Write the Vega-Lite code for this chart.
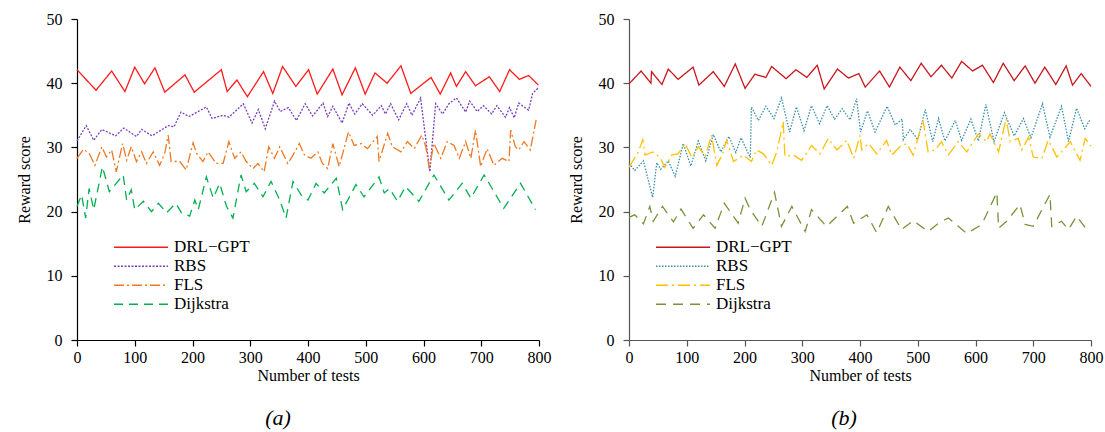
{
  "$schema": "https://vega.github.io/schema/vega-lite/v6.json",
  "background": "white",
  "padding": {"left": 16, "top": 11, "right": 5, "bottom": 2},
  "bounds": "flush",
  "spacing": 90,
  "config": {
    "font": "Liberation Serif, Times New Roman, serif",
    "view": {"stroke": null},
    "axis": {"domainColor": "black", "tickColor": "black", "labelColor": "black", "titleColor": "black", "labelFont": "Liberation Serif, Times New Roman, serif", "titleFont": "Liberation Serif, Times New Roman, serif", "labelFontSize": 16, "titleFontSize": 16, "titleFontWeight": "normal", "grid": false, "tickSize": 6, "domainWidth": 1.2, "tickWidth": 1.2, "labelFlush": false},
    "axisY": {"labelPadding": 9, "titlePadding": 14},
    "axisX": {"labelPadding": 3, "titlePadding": 2},
    "legend": {"labelFont": "Liberation Serif, Times New Roman, serif"},
    "title": {"font": "Liberation Serif, Times New Roman, serif", "fontSize": 22, "fontStyle": "italic", "fontWeight": "normal", "color": "black"}
  },
  "datasets": {
    "a": [
      {"test":0,"score":42.1,"method":"DRL−GPT"},{"test":33,"score":38.9,"method":"DRL−GPT"},{"test":60,"score":41.9,"method":"DRL−GPT"},{"test":83,"score":38.7,"method":"DRL−GPT"},{"test":100,"score":42.5,"method":"DRL−GPT"},{"test":117,"score":39.9,"method":"DRL−GPT"},{"test":135,"score":42.4,"method":"DRL−GPT"},{"test":152,"score":38.6,"method":"DRL−GPT"},{"test":187,"score":41.3,"method":"DRL−GPT"},{"test":203,"score":38.6,"method":"DRL−GPT"},{"test":250,"score":42.1,"method":"DRL−GPT"},{"test":260,"score":38.7,"method":"DRL−GPT"},{"test":277,"score":40.5,"method":"DRL−GPT"},{"test":295,"score":37.9,"method":"DRL−GPT"},{"test":323,"score":41.8,"method":"DRL−GPT"},{"test":339,"score":38.4,"method":"DRL−GPT"},{"test":356,"score":42.6,"method":"DRL−GPT"},{"test":379,"score":39.5,"method":"DRL−GPT"},{"test":401,"score":42.1,"method":"DRL−GPT"},{"test":416,"score":38.3,"method":"DRL−GPT"},{"test":443,"score":42.2,"method":"DRL−GPT"},{"test":459,"score":38.2,"method":"DRL−GPT"},{"test":482,"score":42.4,"method":"DRL−GPT"},{"test":499,"score":38.3,"method":"DRL−GPT"},{"test":516,"score":41.6,"method":"DRL−GPT"},{"test":537,"score":40.0,"method":"DRL−GPT"},{"test":561,"score":42.7,"method":"DRL−GPT"},{"test":578,"score":38.4,"method":"DRL−GPT"},{"test":613,"score":40.9,"method":"DRL−GPT"},{"test":629,"score":38.3,"method":"DRL−GPT"},{"test":647,"score":41.6,"method":"DRL−GPT"},{"test":657,"score":39.5,"method":"DRL−GPT"},{"test":673,"score":41.8,"method":"DRL−GPT"},{"test":690,"score":39.6,"method":"DRL−GPT"},{"test":714,"score":41.0,"method":"DRL−GPT"},{"test":732,"score":38.7,"method":"DRL−GPT"},{"test":749,"score":42.1,"method":"DRL−GPT"},{"test":766,"score":40.6,"method":"DRL−GPT"},{"test":782,"score":41.2,"method":"DRL−GPT"},{"test":799,"score":39.7,"method":"DRL−GPT"},
      {"test":0,"score":31.0,"method":"RBS"},{"test":16,"score":33.4,"method":"RBS"},{"test":29,"score":31.1,"method":"RBS"},{"test":43,"score":32.8,"method":"RBS"},{"test":67,"score":31.8,"method":"RBS"},{"test":81,"score":33.0,"method":"RBS"},{"test":103,"score":31.7,"method":"RBS"},{"test":112,"score":32.8,"method":"RBS"},{"test":130,"score":31.8,"method":"RBS"},{"test":158,"score":33.4,"method":"RBS"},{"test":168,"score":33.2,"method":"RBS"},{"test":180,"score":35.5,"method":"RBS"},{"test":194,"score":34.8,"method":"RBS"},{"test":224,"score":36.3,"method":"RBS"},{"test":234,"score":34.5,"method":"RBS"},{"test":253,"score":35.0,"method":"RBS"},{"test":263,"score":34.7,"method":"RBS"},{"test":288,"score":36.8,"method":"RBS"},{"test":303,"score":33.8,"method":"RBS"},{"test":314,"score":35.9,"method":"RBS"},{"test":326,"score":32.9,"method":"RBS"},{"test":342,"score":37.2,"method":"RBS"},{"test":352,"score":35.6,"method":"RBS"},{"test":366,"score":36.2,"method":"RBS"},{"test":380,"score":34.2,"method":"RBS"},{"test":395,"score":36.8,"method":"RBS"},{"test":408,"score":34.9,"method":"RBS"},{"test":426,"score":36.9,"method":"RBS"},{"test":434,"score":34.8,"method":"RBS"},{"test":443,"score":36.4,"method":"RBS"},{"test":459,"score":33.8,"method":"RBS"},{"test":471,"score":36.9,"method":"RBS"},{"test":481,"score":35.2,"method":"RBS"},{"test":494,"score":36.8,"method":"RBS"},{"test":512,"score":35.0,"method":"RBS"},{"test":527,"score":36.5,"method":"RBS"},{"test":534,"score":35.2,"method":"RBS"},{"test":543,"score":36.8,"method":"RBS"},{"test":557,"score":34.3,"method":"RBS"},{"test":571,"score":36.8,"method":"RBS"},{"test":580,"score":35.0,"method":"RBS"},{"test":595,"score":37.7,"method":"RBS"},{"test":611,"score":26.2,"method":"RBS"},{"test":621,"score":36.8,"method":"RBS"},{"test":633,"score":35.2,"method":"RBS"},{"test":644,"score":36.8,"method":"RBS"},{"test":657,"score":37.7,"method":"RBS"},{"test":673,"score":35.5,"method":"RBS"},{"test":680,"score":37.2,"method":"RBS"},{"test":693,"score":35.6,"method":"RBS"},{"test":704,"score":36.5,"method":"RBS"},{"test":718,"score":35.2,"method":"RBS"},{"test":727,"score":36.5,"method":"RBS"},{"test":742,"score":34.7,"method":"RBS"},{"test":749,"score":36.2,"method":"RBS"},{"test":757,"score":34.6,"method":"RBS"},{"test":765,"score":36.9,"method":"RBS"},{"test":782,"score":35.8,"method":"RBS"},{"test":789,"score":38.4,"method":"RBS"},{"test":799,"score":39.3,"method":"RBS"},
      {"test":0,"score":28.3,"method":"FLS"},{"test":11,"score":29.7,"method":"FLS"},{"test":21,"score":29.1,"method":"FLS"},{"test":31,"score":27.2,"method":"FLS"},{"test":43,"score":30.1,"method":"FLS"},{"test":51,"score":28.5,"method":"FLS"},{"test":60,"score":29.6,"method":"FLS"},{"test":68,"score":26.2,"method":"FLS"},{"test":79,"score":30.6,"method":"FLS"},{"test":86,"score":28.0,"method":"FLS"},{"test":94,"score":30.1,"method":"FLS"},{"test":103,"score":27.8,"method":"FLS"},{"test":112,"score":29.3,"method":"FLS"},{"test":120,"score":27.5,"method":"FLS"},{"test":132,"score":29.3,"method":"FLS"},{"test":143,"score":27.2,"method":"FLS"},{"test":152,"score":29.1,"method":"FLS"},{"test":158,"score":31.9,"method":"FLS"},{"test":163,"score":27.8,"method":"FLS"},{"test":178,"score":27.8,"method":"FLS"},{"test":189,"score":26.5,"method":"FLS"},{"test":201,"score":30.7,"method":"FLS"},{"test":207,"score":29.1,"method":"FLS"},{"test":218,"score":27.8,"method":"FLS"},{"test":227,"score":29.3,"method":"FLS"},{"test":241,"score":27.5,"method":"FLS"},{"test":253,"score":27.5,"method":"FLS"},{"test":263,"score":30.9,"method":"FLS"},{"test":273,"score":28.3,"method":"FLS"},{"test":284,"score":29.3,"method":"FLS"},{"test":293,"score":27.8,"method":"FLS"},{"test":305,"score":26.7,"method":"FLS"},{"test":313,"score":27.5,"method":"FLS"},{"test":324,"score":26.2,"method":"FLS"},{"test":332,"score":30.1,"method":"FLS"},{"test":342,"score":28.3,"method":"FLS"},{"test":351,"score":30.1,"method":"FLS"},{"test":365,"score":27.5,"method":"FLS"},{"test":374,"score":28.8,"method":"FLS"},{"test":385,"score":30.6,"method":"FLS"},{"test":394,"score":28.8,"method":"FLS"},{"test":405,"score":28.3,"method":"FLS"},{"test":417,"score":29.3,"method":"FLS"},{"test":425,"score":27.5,"method":"FLS"},{"test":434,"score":26.7,"method":"FLS"},{"test":443,"score":30.6,"method":"FLS"},{"test":454,"score":27.0,"method":"FLS"},{"test":470,"score":32.4,"method":"FLS"},{"test":480,"score":30.3,"method":"FLS"},{"test":492,"score":30.6,"method":"FLS"},{"test":503,"score":29.8,"method":"FLS"},{"test":520,"score":31.7,"method":"FLS"},{"test":523,"score":27.8,"method":"FLS"},{"test":538,"score":32.2,"method":"FLS"},{"test":546,"score":30.1,"method":"FLS"},{"test":561,"score":29.3,"method":"FLS"},{"test":572,"score":30.9,"method":"FLS"},{"test":584,"score":29.8,"method":"FLS"},{"test":597,"score":31.9,"method":"FLS"},{"test":604,"score":30.1,"method":"FLS"},{"test":610,"score":26.7,"method":"FLS"},{"test":618,"score":30.6,"method":"FLS"},{"test":630,"score":28.3,"method":"FLS"},{"test":641,"score":30.9,"method":"FLS"},{"test":653,"score":30.3,"method":"FLS"},{"test":662,"score":28.3,"method":"FLS"},{"test":673,"score":30.9,"method":"FLS"},{"test":682,"score":28.3,"method":"FLS"},{"test":690,"score":32.7,"method":"FLS"},{"test":699,"score":27.0,"method":"FLS"},{"test":710,"score":29.8,"method":"FLS"},{"test":722,"score":27.2,"method":"FLS"},{"test":736,"score":28.3,"method":"FLS"},{"test":748,"score":27.8,"method":"FLS"},{"test":751,"score":32.7,"method":"FLS"},{"test":759,"score":30.1,"method":"FLS"},{"test":765,"score":29.6,"method":"FLS"},{"test":774,"score":30.9,"method":"FLS"},{"test":785,"score":29.6,"method":"FLS"},{"test":795,"score":34.3,"method":"FLS"},
      {"test":0,"score":20.8,"method":"Dijkstra"},{"test":8,"score":22.6,"method":"Dijkstra"},{"test":15,"score":19.0,"method":"Dijkstra"},{"test":21,"score":23.6,"method":"Dijkstra"},{"test":29,"score":20.3,"method":"Dijkstra"},{"test":44,"score":27.0,"method":"Dijkstra"},{"test":56,"score":23.1,"method":"Dijkstra"},{"test":80,"score":25.7,"method":"Dijkstra"},{"test":86,"score":21.8,"method":"Dijkstra"},{"test":94,"score":23.4,"method":"Dijkstra"},{"test":100,"score":20.3,"method":"Dijkstra"},{"test":115,"score":21.6,"method":"Dijkstra"},{"test":129,"score":20.0,"method":"Dijkstra"},{"test":141,"score":21.3,"method":"Dijkstra"},{"test":155,"score":19.8,"method":"Dijkstra"},{"test":171,"score":21.3,"method":"Dijkstra"},{"test":181,"score":19.8,"method":"Dijkstra"},{"test":195,"score":19.3,"method":"Dijkstra"},{"test":204,"score":21.8,"method":"Dijkstra"},{"test":210,"score":20.3,"method":"Dijkstra"},{"test":224,"score":25.4,"method":"Dijkstra"},{"test":236,"score":22.1,"method":"Dijkstra"},{"test":247,"score":24.4,"method":"Dijkstra"},{"test":259,"score":20.8,"method":"Dijkstra"},{"test":270,"score":19.0,"method":"Dijkstra"},{"test":284,"score":25.7,"method":"Dijkstra"},{"test":293,"score":23.1,"method":"Dijkstra"},{"test":307,"score":24.4,"method":"Dijkstra"},{"test":322,"score":22.3,"method":"Dijkstra"},{"test":336,"score":24.7,"method":"Dijkstra"},{"test":351,"score":21.8,"method":"Dijkstra"},{"test":362,"score":19.0,"method":"Dijkstra"},{"test":374,"score":24.7,"method":"Dijkstra"},{"test":388,"score":22.6,"method":"Dijkstra"},{"test":400,"score":21.8,"method":"Dijkstra"},{"test":414,"score":24.4,"method":"Dijkstra"},{"test":428,"score":22.9,"method":"Dijkstra"},{"test":449,"score":25.2,"method":"Dijkstra"},{"test":460,"score":20.3,"method":"Dijkstra"},{"test":483,"score":24.2,"method":"Dijkstra"},{"test":497,"score":22.3,"method":"Dijkstra"},{"test":523,"score":25.4,"method":"Dijkstra"},{"test":532,"score":22.9,"method":"Dijkstra"},{"test":541,"score":23.6,"method":"Dijkstra"},{"test":555,"score":21.6,"method":"Dijkstra"},{"test":569,"score":23.9,"method":"Dijkstra"},{"test":592,"score":21.6,"method":"Dijkstra"},{"test":618,"score":25.7,"method":"Dijkstra"},{"test":644,"score":21.8,"method":"Dijkstra"},{"test":667,"score":24.4,"method":"Dijkstra"},{"test":682,"score":22.1,"method":"Dijkstra"},{"test":705,"score":25.7,"method":"Dijkstra"},{"test":739,"score":20.5,"method":"Dijkstra"},{"test":768,"score":24.4,"method":"Dijkstra"},{"test":794,"score":20.3,"method":"Dijkstra"}
    ],
    "b": [
      {"test":0,"score":39.9,"method":"DRL−GPT"},{"test":21,"score":41.9,"method":"DRL−GPT"},{"test":38,"score":40.0,"method":"DRL−GPT"},{"test":39,"score":41.8,"method":"DRL−GPT"},{"test":57,"score":39.8,"method":"DRL−GPT"},{"test":68,"score":42.2,"method":"DRL−GPT"},{"test":85,"score":40.6,"method":"DRL−GPT"},{"test":111,"score":42.5,"method":"DRL−GPT"},{"test":121,"score":39.7,"method":"DRL−GPT"},{"test":146,"score":41.8,"method":"DRL−GPT"},{"test":165,"score":39.5,"method":"DRL−GPT"},{"test":184,"score":43.0,"method":"DRL−GPT"},{"test":201,"score":39.2,"method":"DRL−GPT"},{"test":218,"score":41.4,"method":"DRL−GPT"},{"test":237,"score":40.9,"method":"DRL−GPT"},{"test":247,"score":42.6,"method":"DRL−GPT"},{"test":272,"score":40.7,"method":"DRL−GPT"},{"test":289,"score":42.1,"method":"DRL−GPT"},{"test":308,"score":40.9,"method":"DRL−GPT"},{"test":326,"score":42.8,"method":"DRL−GPT"},{"test":338,"score":39.1,"method":"DRL−GPT"},{"test":361,"score":42.2,"method":"DRL−GPT"},{"test":380,"score":40.8,"method":"DRL−GPT"},{"test":398,"score":41.5,"method":"DRL−GPT"},{"test":409,"score":39.4,"method":"DRL−GPT"},{"test":434,"score":41.9,"method":"DRL−GPT"},{"test":451,"score":39.4,"method":"DRL−GPT"},{"test":469,"score":42.5,"method":"DRL−GPT"},{"test":488,"score":40.4,"method":"DRL−GPT"},{"test":506,"score":43.1,"method":"DRL−GPT"},{"test":523,"score":41.0,"method":"DRL−GPT"},{"test":541,"score":42.8,"method":"DRL−GPT"},{"test":559,"score":40.8,"method":"DRL−GPT"},{"test":576,"score":43.4,"method":"DRL−GPT"},{"test":595,"score":41.9,"method":"DRL−GPT"},{"test":612,"score":42.8,"method":"DRL−GPT"},{"test":631,"score":40.1,"method":"DRL−GPT"},{"test":648,"score":43.1,"method":"DRL−GPT"},{"test":667,"score":40.4,"method":"DRL−GPT"},{"test":686,"score":42.7,"method":"DRL−GPT"},{"test":703,"score":40.0,"method":"DRL−GPT"},{"test":720,"score":42.5,"method":"DRL−GPT"},{"test":739,"score":39.8,"method":"DRL−GPT"},{"test":757,"score":42.7,"method":"DRL−GPT"},{"test":768,"score":39.7,"method":"DRL−GPT"},{"test":783,"score":41.5,"method":"DRL−GPT"},{"test":800,"score":39.5,"method":"DRL−GPT"},
      {"test":0,"score":27.5,"method":"RBS"},{"test":10,"score":26.4,"method":"RBS"},{"test":25,"score":27.9,"method":"RBS"},{"test":41,"score":22.2,"method":"RBS"},{"test":48,"score":27.6,"method":"RBS"},{"test":55,"score":26.6,"method":"RBS"},{"test":68,"score":27.9,"method":"RBS"},{"test":80,"score":25.5,"method":"RBS"},{"test":94,"score":30.6,"method":"RBS"},{"test":107,"score":27.1,"method":"RBS"},{"test":120,"score":31.0,"method":"RBS"},{"test":133,"score":27.9,"method":"RBS"},{"test":146,"score":32.0,"method":"RBS"},{"test":159,"score":29.3,"method":"RBS"},{"test":173,"score":31.7,"method":"RBS"},{"test":185,"score":29.2,"method":"RBS"},{"test":194,"score":31.5,"method":"RBS"},{"test":210,"score":28.4,"method":"RBS"},{"test":212,"score":36.3,"method":"RBS"},{"test":224,"score":34.2,"method":"RBS"},{"test":237,"score":36.4,"method":"RBS"},{"test":251,"score":34.5,"method":"RBS"},{"test":264,"score":37.7,"method":"RBS"},{"test":278,"score":32.4,"method":"RBS"},{"test":290,"score":36.3,"method":"RBS"},{"test":303,"score":32.6,"method":"RBS"},{"test":316,"score":36.5,"method":"RBS"},{"test":330,"score":33.7,"method":"RBS"},{"test":343,"score":36.5,"method":"RBS"},{"test":356,"score":34.4,"method":"RBS"},{"test":369,"score":36.0,"method":"RBS"},{"test":383,"score":34.3,"method":"RBS"},{"test":394,"score":37.6,"method":"RBS"},{"test":401,"score":32.4,"method":"RBS"},{"test":413,"score":35.7,"method":"RBS"},{"test":426,"score":32.4,"method":"RBS"},{"test":447,"score":36.4,"method":"RBS"},{"test":461,"score":33.5,"method":"RBS"},{"test":473,"score":34.4,"method":"RBS"},{"test":475,"score":31.2,"method":"RBS"},{"test":487,"score":32.8,"method":"RBS"},{"test":500,"score":31.2,"method":"RBS"},{"test":513,"score":35.9,"method":"RBS"},{"test":526,"score":30.9,"method":"RBS"},{"test":536,"score":34.5,"method":"RBS"},{"test":547,"score":31.0,"method":"RBS"},{"test":565,"score":34.2,"method":"RBS"},{"test":576,"score":31.1,"method":"RBS"},{"test":592,"score":34.4,"method":"RBS"},{"test":605,"score":31.0,"method":"RBS"},{"test":618,"score":36.7,"method":"RBS"},{"test":632,"score":30.9,"method":"RBS"},{"test":650,"score":35.4,"method":"RBS"},{"test":667,"score":31.8,"method":"RBS"},{"test":683,"score":34.5,"method":"RBS"},{"test":696,"score":31.5,"method":"RBS"},{"test":716,"score":36.8,"method":"RBS"},{"test":729,"score":31.6,"method":"RBS"},{"test":749,"score":36.4,"method":"RBS"},{"test":761,"score":30.9,"method":"RBS"},{"test":775,"score":36.1,"method":"RBS"},{"test":789,"score":32.9,"method":"RBS"},{"test":798,"score":34.3,"method":"RBS"},
      {"test":0,"score":26.9,"method":"FLS"},{"test":16,"score":29.3,"method":"FLS"},{"test":24,"score":31.2,"method":"FLS"},{"test":28,"score":28.8,"method":"FLS"},{"test":41,"score":29.3,"method":"FLS"},{"test":54,"score":28.4,"method":"FLS"},{"test":62,"score":26.9,"method":"FLS"},{"test":74,"score":28.8,"method":"FLS"},{"test":85,"score":29.0,"method":"FLS"},{"test":97,"score":30.6,"method":"FLS"},{"test":109,"score":28.4,"method":"FLS"},{"test":120,"score":30.1,"method":"FLS"},{"test":132,"score":28.6,"method":"FLS"},{"test":143,"score":31.9,"method":"FLS"},{"test":152,"score":27.2,"method":"FLS"},{"test":162,"score":29.0,"method":"FLS"},{"test":169,"score":31.1,"method":"FLS"},{"test":181,"score":27.8,"method":"FLS"},{"test":198,"score":28.8,"method":"FLS"},{"test":212,"score":27.8,"method":"FLS"},{"test":221,"score":29.6,"method":"FLS"},{"test":233,"score":29.0,"method":"FLS"},{"test":247,"score":27.2,"method":"FLS"},{"test":256,"score":29.3,"method":"FLS"},{"test":267,"score":34.0,"method":"FLS"},{"test":270,"score":28.6,"method":"FLS"},{"test":285,"score":28.8,"method":"FLS"},{"test":299,"score":28.0,"method":"FLS"},{"test":316,"score":30.3,"method":"FLS"},{"test":331,"score":29.0,"method":"FLS"},{"test":345,"score":31.4,"method":"FLS"},{"test":360,"score":29.6,"method":"FLS"},{"test":368,"score":30.3,"method":"FLS"},{"test":377,"score":31.1,"method":"FLS"},{"test":389,"score":28.3,"method":"FLS"},{"test":400,"score":31.9,"method":"FLS"},{"test":403,"score":29.6,"method":"FLS"},{"test":415,"score":30.6,"method":"FLS"},{"test":429,"score":29.0,"method":"FLS"},{"test":446,"score":31.1,"method":"FLS"},{"test":455,"score":28.8,"method":"FLS"},{"test":469,"score":30.1,"method":"FLS"},{"test":481,"score":30.6,"method":"FLS"},{"test":492,"score":28.8,"method":"FLS"},{"test":509,"score":34.2,"method":"FLS"},{"test":518,"score":29.3,"method":"FLS"},{"test":530,"score":29.6,"method":"FLS"},{"test":541,"score":30.9,"method":"FLS"},{"test":553,"score":28.8,"method":"FLS"},{"test":570,"score":30.9,"method":"FLS"},{"test":585,"score":29.3,"method":"FLS"},{"test":605,"score":32.1,"method":"FLS"},{"test":619,"score":30.9,"method":"FLS"},{"test":625,"score":32.1,"method":"FLS"},{"test":640,"score":29.3,"method":"FLS"},{"test":653,"score":34.5,"method":"FLS"},{"test":660,"score":30.9,"method":"FLS"},{"test":674,"score":31.4,"method":"FLS"},{"test":680,"score":29.6,"method":"FLS"},{"test":692,"score":31.6,"method":"FLS"},{"test":700,"score":28.5,"method":"FLS"},{"test":715,"score":28.3,"method":"FLS"},{"test":726,"score":31.1,"method":"FLS"},{"test":741,"score":28.5,"method":"FLS"},{"test":752,"score":29.6,"method":"FLS"},{"test":764,"score":30.9,"method":"FLS"},{"test":781,"score":28.0,"method":"FLS"},{"test":790,"score":31.4,"method":"FLS"},{"test":800,"score":30.2,"method":"FLS"},
      {"test":0,"score":19.1,"method":"Dijkstra"},{"test":10,"score":19.5,"method":"Dijkstra"},{"test":25,"score":18.1,"method":"Dijkstra"},{"test":36,"score":20.8,"method":"Dijkstra"},{"test":42,"score":18.5,"method":"Dijkstra"},{"test":58,"score":20.8,"method":"Dijkstra"},{"test":77,"score":18.4,"method":"Dijkstra"},{"test":90,"score":20.4,"method":"Dijkstra"},{"test":111,"score":17.4,"method":"Dijkstra"},{"test":129,"score":19.5,"method":"Dijkstra"},{"test":149,"score":17.4,"method":"Dijkstra"},{"test":165,"score":21.3,"method":"Dijkstra"},{"test":189,"score":18.2,"method":"Dijkstra"},{"test":201,"score":22.1,"method":"Dijkstra"},{"test":210,"score":20.3,"method":"Dijkstra"},{"test":230,"score":17.7,"method":"Dijkstra"},{"test":252,"score":23.0,"method":"Dijkstra"},{"test":264,"score":17.7,"method":"Dijkstra"},{"test":282,"score":20.8,"method":"Dijkstra"},{"test":305,"score":16.9,"method":"Dijkstra"},{"test":316,"score":20.3,"method":"Dijkstra"},{"test":342,"score":17.7,"method":"Dijkstra"},{"test":378,"score":20.8,"method":"Dijkstra"},{"test":389,"score":18.2,"method":"Dijkstra"},{"test":412,"score":19.5,"method":"Dijkstra"},{"test":429,"score":16.7,"method":"Dijkstra"},{"test":449,"score":20.8,"method":"Dijkstra"},{"test":472,"score":17.2,"method":"Dijkstra"},{"test":492,"score":18.6,"method":"Dijkstra"},{"test":518,"score":16.9,"method":"Dijkstra"},{"test":536,"score":18.2,"method":"Dijkstra"},{"test":553,"score":19.0,"method":"Dijkstra"},{"test":585,"score":16.6,"method":"Dijkstra"},{"test":611,"score":18.0,"method":"Dijkstra"},{"test":637,"score":23.0,"method":"Dijkstra"},{"test":640,"score":17.4,"method":"Dijkstra"},{"test":654,"score":18.5,"method":"Dijkstra"},{"test":677,"score":21.1,"method":"Dijkstra"},{"test":686,"score":18.0,"method":"Dijkstra"},{"test":700,"score":17.7,"method":"Dijkstra"},{"test":729,"score":22.7,"method":"Dijkstra"},{"test":732,"score":17.7,"method":"Dijkstra"},{"test":749,"score":18.5,"method":"Dijkstra"},{"test":761,"score":17.2,"method":"Dijkstra"},{"test":775,"score":19.3,"method":"Dijkstra"},{"test":795,"score":16.9,"method":"Dijkstra"}
    ]
  },
  "hconcat": [
    {
      "width": 462,
      "height": 321,
      "data": {"name": "a"},
      "title": {"text": "(a)", "orient": "bottom", "dx": -30, "offset": 25},
      "mark": {"type": "line", "strokeWidth": 1.3},
      "encoding": {
        "x": {"field": "test", "type": "quantitative", "scale": {"domain": [0, 800], "nice": false}, "axis": {"title": "Number of tests", "values": [0,100,200,300,400,500,600,700,800]}},
        "y": {"field": "score", "type": "quantitative", "scale": {"domain": [0, 50], "nice": false}, "axis": {"title": "Reward score", "values": [0,10,20,30,40,50]}},
        "color": {"field": "method", "type": "nominal", "sort": null,
          "scale": {"domain": ["DRL−GPT","RBS","FLS","Dijkstra"], "range": ["#FF1A1A","#7A3DBE","#F07820","#00B050"]},
          "legend": {"title": null, "orient": "none", "legendX": 36, "legendY": 219, "symbolType": "stroke", "symbolSize": 2916, "symbolStrokeWidth": 1.5, "labelFontSize": 17, "labelFont": "Liberation Serif, Times New Roman, serif", "labelColor": "black", "clipHeight": 18.5, "rowPadding": 0, "labelOffset": 5}},
        "strokeDash": {"field": "method", "type": "nominal", "sort": null,
          "scale": {"domain": ["DRL−GPT","RBS","FLS","Dijkstra"], "range": [[1,0],[2,1.5],[10,3,2,3],[9,6]]},
          "legend": {"title": null, "orient": "none", "legendX": 36, "legendY": 219, "symbolType": "stroke", "symbolSize": 2916, "symbolStrokeWidth": 1.5, "labelFontSize": 17, "labelFont": "Liberation Serif, Times New Roman, serif", "labelColor": "black", "clipHeight": 18.5, "rowPadding": 0, "labelOffset": 5}}
      }
    },
    {
      "width": 462,
      "height": 321,
      "data": {"name": "b"},
      "title": {"text": "(b)", "orient": "bottom", "dx": -16, "offset": 25},
      "mark": {"type": "line", "strokeWidth": 1.3},
      "encoding": {
        "x": {"field": "test", "type": "quantitative", "scale": {"domain": [0, 800], "nice": false}, "axis": {"title": "Number of tests", "values": [0,100,200,300,400,500,600,700,800], "domainColor": "#555555", "tickColor": "#555555"}},
        "y": {"field": "score", "type": "quantitative", "scale": {"domain": [0, 50], "nice": false}, "axis": {"title": "Reward score", "values": [0,10,20,30,40,50], "domainColor": "#555555", "tickColor": "#555555"}},
        "color": {"field": "method", "type": "nominal", "sort": null,
          "scale": {"domain": ["DRL−GPT","RBS","FLS","Dijkstra"], "range": ["#C8161D","#3A8FA8","#FFC000","#77933C"]},
          "legend": {"title": null, "orient": "none", "legendX": 26, "legendY": 219, "symbolType": "stroke", "symbolSize": 2916, "symbolStrokeWidth": 1.5, "labelFontSize": 17, "labelFont": "Liberation Serif, Times New Roman, serif", "labelColor": "black", "clipHeight": 18.5, "rowPadding": 0, "labelOffset": 5}},
        "strokeDash": {"field": "method", "type": "nominal", "sort": null,
          "scale": {"domain": ["DRL−GPT","RBS","FLS","Dijkstra"], "range": [[1,0],[1.5,1.5],[12,4,2,4],[10,7]]},
          "legend": {"title": null, "orient": "none", "legendX": 26, "legendY": 219, "symbolType": "stroke", "symbolSize": 2916, "symbolStrokeWidth": 1.5, "labelFontSize": 17, "labelFont": "Liberation Serif, Times New Roman, serif", "labelColor": "black", "clipHeight": 18.5, "rowPadding": 0, "labelOffset": 5}}
      }
    }
  ],
  "resolve": {"scale": {"color": "independent", "strokeDash": "independent"}, "legend": {"color": "independent", "strokeDash": "independent"}}
}
